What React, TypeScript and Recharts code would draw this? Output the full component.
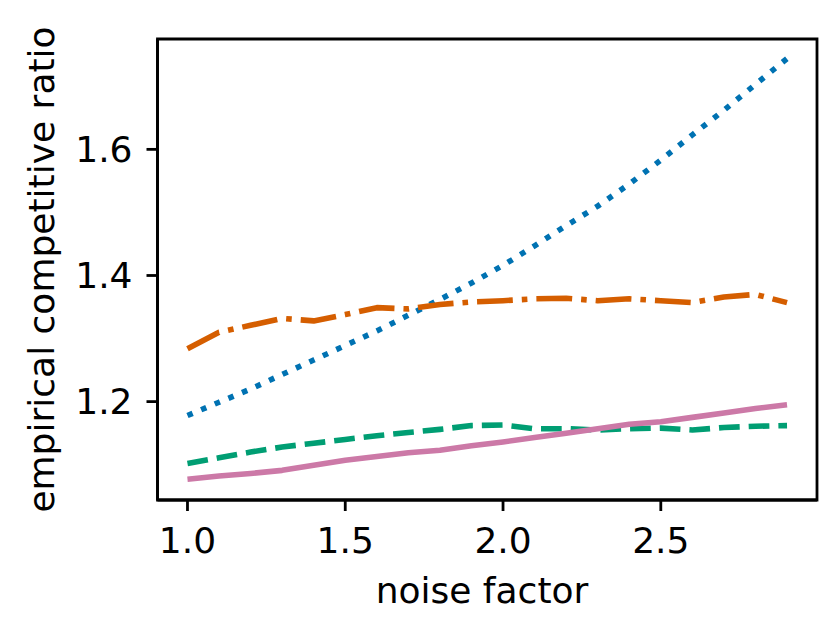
import { Line, LineChart, ReferenceArea, XAxis, YAxis } from "recharts";

// x values (noise factor)
const noise = [
  1.0, 1.1, 1.2, 1.3, 1.4, 1.5, 1.6, 1.7, 1.8, 1.9, 2.0, 2.1, 2.2, 2.3, 2.4,
  2.5, 2.6, 2.7, 2.8, 2.9,
];

// empirical competitive ratio per series
const blueRatio = [
  1.178, 1.199, 1.22, 1.243, 1.266, 1.289, 1.312, 1.337, 1.362, 1.388, 1.416,
  1.447, 1.479, 1.51, 1.545, 1.583, 1.623, 1.662, 1.703, 1.744,
];
const orangeRatio = [
  1.284, 1.31, 1.321, 1.332, 1.328, 1.338, 1.349, 1.347, 1.354, 1.358, 1.36,
  1.363, 1.364, 1.36, 1.363, 1.36, 1.357, 1.366, 1.37, 1.357,
];
const greenRatio = [
  1.102, 1.111, 1.12, 1.128, 1.134, 1.14, 1.146, 1.151, 1.156, 1.162, 1.163,
  1.157, 1.157, 1.155, 1.157, 1.158, 1.155, 1.159, 1.161, 1.162,
];
const pinkRatio = [
  1.077, 1.082, 1.086, 1.091, 1.099, 1.107, 1.113, 1.119, 1.123, 1.13, 1.136,
  1.143, 1.15, 1.157, 1.164, 1.168, 1.175, 1.182, 1.189, 1.195,
];

const xTicks = [1.0, 1.5, 2.0, 2.5];
const yTicks = [1.2, 1.4, 1.6];

const xDomain: [number, number] = [0.905, 2.995];
const yDomain: [number, number] = [1.044, 1.775];

const data = noise.map((x, i) => ({
  x,
  blue: blueRatio[i],
  orange: orangeRatio[i],
  green: greenRatio[i],
  pink: pinkRatio[i],
}));

const font = "DejaVu Sans";
const lw = 5.6;

export default function App() {
  return (
    <div style={{ position: "absolute", left: 0, top: 0, background: "#fff" }}>
      <LineChart
        width={832}
        height={637}
        data={data}
        margin={{ top: 39, right: 15, left: 0, bottom: 0 }}
        style={{ fontFamily: font }}
      >
        <XAxis
          dataKey="x"
          type="number"
          domain={xDomain}
          ticks={xTicks}
          allowDataOverflow
          tickFormatter={(v: number) => v.toFixed(1)}
          height={137}
          tickSize={11}
          tickMargin={16}
          stroke="#000"
          strokeWidth={2.8}
          tick={{ fill: "#000", fontSize: 36, fontFamily: font }}
          label={() => (
            <text
              x={482}
              y={603}
              textAnchor="middle"
              fontSize={36}
              fontFamily={font}
              fill="#000"
            >
              noise factor
            </text>
          )}
        />
        <YAxis
          type="number"
          domain={yDomain}
          ticks={yTicks}
          allowDataOverflow
          tickFormatter={(v: number) => v.toFixed(1)}
          width={157.5}
          tickSize={11}
          tickMargin={14}
          stroke="#000"
          strokeWidth={2.8}
          tick={{ fill: "#000", fontSize: 36, fontFamily: font }}
          label={() => (
            <text
              x={53.5}
              y={269.5}
              transform="rotate(-90 53.5 269.5)"
              textAnchor="middle"
              fontSize={36}
              fontFamily={font}
              fill="#000"
            >
              empirical competitive ratio
            </text>
          )}
        />
        <Line
          dataKey="blue"
          stroke="#0072B2"
          strokeWidth={lw}
          strokeDasharray="5.6 9.2"
          strokeLinejoin="round"
          dot={false}
          activeDot={false}
          isAnimationActive={false}
        />
        <Line
          dataKey="orange"
          stroke="#D55E00"
          strokeWidth={lw}
          strokeDasharray="35.8 9 5.6 9"
          strokeLinejoin="round"
          dot={false}
          activeDot={false}
          isAnimationActive={false}
        />
        <Line
          dataKey="green"
          stroke="#009E73"
          strokeWidth={lw}
          strokeDasharray="20.7 9"
          strokeLinejoin="round"
          dot={false}
          activeDot={false}
          isAnimationActive={false}
        />
        <Line
          dataKey="pink"
          stroke="#CC79A7"
          strokeWidth={lw}
          strokeLinejoin="round"
          dot={false}
          activeDot={false}
          isAnimationActive={false}
        />
        <ReferenceArea
          x1={xDomain[0]}
          x2={xDomain[1]}
          y1={yDomain[0]}
          y2={yDomain[1]}
          fill="none"
          stroke="#000"
          strokeWidth={2.8}
          ifOverflow="visible"
        />
      </LineChart>
    </div>
  );
}
